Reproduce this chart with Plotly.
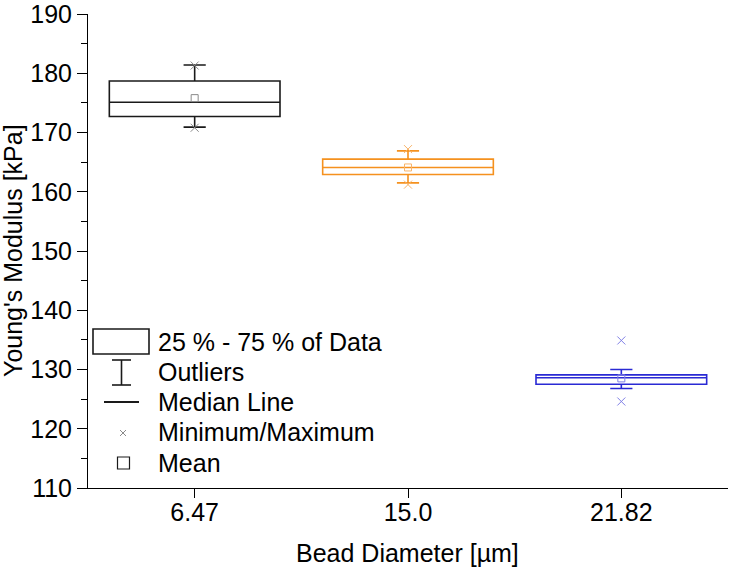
import plotly.graph_objects as go

categories = ["6.47", "15.0", "21.82"]
q1 = [172.7, 162.9, 127.5]
median = [175.1, 164.1, 128.6]
q3 = [178.7, 165.5, 129.1]
lower_whisker = [170.9, 161.5, 126.8]
upper_whisker = [181.4, 166.9, 130.0]
means = [175.8, 164.1, 128.5]
minimums = [170.8, 161.2, 124.6]
maximums = [181.3, 167.2, 134.9]

line_colors = ["#1a1a1a", "#F5911E", "#2A2AD4"]
light_colors = ["#8a8a8a", "#F8B46A", "#8080E6"]

legend_labels = ["25 % - 75 % of Data", "Outliers", "Median Line", "Minimum/Maximum", "Mean"]
x_title = "Bead Diameter [µm]"
y_title = "Young's Modulus [kPa]"

FONT = "Liberation Sans, Arial, sans-serif"
FS = 25
W, H = 730, 570
L, R, T, B = 88, 2, 14, 82
PW, PH = W - L - R, H - T - B

fig = go.Figure()

for i, cat in enumerate(categories):
    fig.add_trace(go.Box(
        x=[cat], q1=[q1[i]], median=[median[i]], q3=[q3[i]],
        lowerfence=[lower_whisker[i]], upperfence=[upper_whisker[i]],
        width=0.8, whiskerwidth=0.13,
        line=dict(color=line_colors[i], width=1.6),
        fillcolor="rgba(0,0,0,0)", boxpoints=False, showlegend=False,
    ))
    fig.add_trace(go.Scatter(
        x=[cat], y=[means[i]], mode="markers", showlegend=False,
        marker=dict(symbol="square-open", size=7, color=light_colors[i], line=dict(width=1)),
    ))
    fig.add_trace(go.Scatter(
        x=[cat, cat], y=[minimums[i], maximums[i]], mode="markers", showlegend=False,
        marker=dict(symbol="x-thin-open", size=8, color=light_colors[i], line=dict(width=1, color=light_colors[i])),
    ))

# convert screen pixel positions to paper coordinates
def px(x):
    return (x - L) / PW

def py(y):
    return (T + PH - y) / PH

shapes = []
shapes.append(dict(type="rect", xref="paper", yref="paper", x0=px(93), x1=px(149), y0=py(354), y1=py(329),
                   line=dict(color="#1a1a1a", width=1.6)))
shapes.append(dict(type="line", xref="paper", yref="paper", x0=px(121.5), x1=px(121.5), y0=py(360), y1=py(385),
                   line=dict(color="#1a1a1a", width=1.6)))
shapes.append(dict(type="line", xref="paper", yref="paper", x0=px(112), x1=px(131), y0=py(360), y1=py(360),
                   line=dict(color="#1a1a1a", width=1.6)))
shapes.append(dict(type="line", xref="paper", yref="paper", x0=px(112), x1=px(131), y0=py(385), y1=py(385),
                   line=dict(color="#1a1a1a", width=1.6)))
shapes.append(dict(type="line", xref="paper", yref="paper", x0=px(104), x1=px(139), y0=py(402), y1=py(402),
                   line=dict(color="#1a1a1a", width=2.2)))
shapes.append(dict(type="line", xref="paper", yref="paper", x0=px(120), x1=px(126), y0=py(430), y1=py(436),
                   line=dict(color="#8a8a8a", width=1)))
shapes.append(dict(type="line", xref="paper", yref="paper", x0=px(120), x1=px(126), y0=py(436), y1=py(430),
                   line=dict(color="#8a8a8a", width=1)))
shapes.append(dict(type="rect", xref="paper", yref="paper", x0=px(117.5), x1=px(129.5), y0=py(469), y1=py(457),
                   line=dict(color="#1a1a1a", width=1.2)))

annotations = []
text_y = [342, 372, 402, 432, 463]
for lbl, ty in zip(legend_labels, text_y):
    annotations.append(dict(text=lbl, xref="paper", yref="paper", x=px(156), y=py(ty),
                            xanchor="left", yanchor="middle", showarrow=False,
                            font=dict(family=FONT, size=FS, color="black")))
annotations.append(dict(text=x_title, xref="paper", yref="paper", x=px(407), y=py(553),
                        xanchor="center", yanchor="middle", showarrow=False,
                        font=dict(family=FONT, size=FS, color="black")))
annotations.append(dict(text=y_title, xref="paper", yref="paper", x=px(13), y=py(251),
                        xanchor="center", yanchor="middle", showarrow=False, textangle=-90,
                        font=dict(family=FONT, size=FS, color="black")))

fig.update_layout(
    width=W, height=H,
    margin=dict(l=L, r=R, t=T, b=B),
    plot_bgcolor="white", paper_bgcolor="white",
    font=dict(family=FONT, size=FS, color="black"),
    shapes=shapes, annotations=annotations,
    boxmode="overlay",
    xaxis=dict(type="category", categoryorder="array", categoryarray=categories,
               range=[-0.5, 2.5], showline=True, linecolor="black", linewidth=1,
               ticks="outside", ticklen=9, tickcolor="black", tickwidth=1,
               ticklabelstandoff=-7,
               showgrid=False, zeroline=False, mirror=False, automargin=False),
    yaxis=dict(range=[110, 190], dtick=10, tick0=110, showline=True, linecolor="black", linewidth=1,
               ticks="outside", ticklen=10, tickcolor="black", tickwidth=1,
               minor=dict(dtick=5, ticks="outside", ticklen=6, tickcolor="black", tickwidth=1, showgrid=False),
               ticklabeloverflow="allow",
               showgrid=False, zeroline=False, automargin=False),
)

fig.write_html("out.html", config={"displayModeBar": False},
               post_script="document.body.style.margin='0';")
